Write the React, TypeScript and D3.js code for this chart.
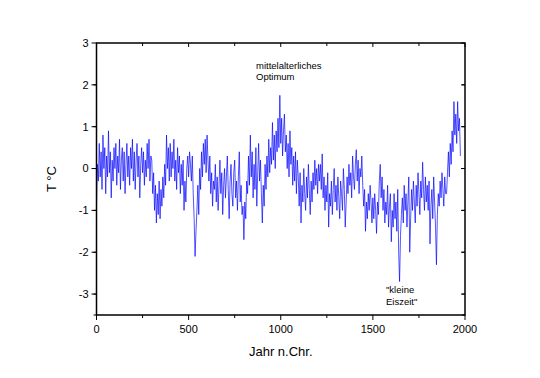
import React from "react";
import * as d3 from "d3";

const startYear = 0;
const stepYears = 5;

const temps0 = [-0.9, 0.1, -0.3, 0.6, -0.2, 0.4, -0.5, 0.8, 0.0, 0.5, -0.6, 0.3, -0.2, 0.9, -0.1, 0.4, -0.7, 0.2, -0.3, 0.5];
const temps100 = [0.0, 0.6, -0.4, 0.3, -0.1, 0.7, -0.5, 0.2, 0.5, -0.3, 0.4, -0.6, 0.1, 0.6, -0.2, 0.3, -0.4, 0.5, 0.0, 0.7];
const temps200 = [-0.3, 0.4, -0.5, 0.2, 0.6, -0.2, 0.3, -0.7, 0.1, 0.5, -0.1, 0.4, -0.4, 0.2, -0.2, 0.6, 0.0, 0.7, -0.3, 0.3];
const temps300 = [0.2, -0.6, -0.1, -1.0, -0.4, -1.3, -0.6, -1.1, -0.3, -1.2, -0.5, -0.9, -0.2, -0.7, 0.1, -0.4, 0.8, 0.0, 0.5, -0.3];
const temps400 = [0.6, -0.2, 0.4, 0.0, 0.7, -0.3, 0.2, -0.5, 0.5, -0.1, 0.3, -0.6, 0.1, -0.4, 0.2, -1.0, -0.3, -0.8, 0.0, 0.3];
const temps500 = [-0.2, 0.4, 0.1, -0.3, 0.3, -0.6, -1.2, -2.1, -1.5, -1.0, -0.4, -1.1, 0.0, -0.5, 0.4, -0.2, 0.6, 0.1, 0.7, -0.1];
const temps600 = [0.8, 0.2, -0.3, 0.3, -0.6, -0.1, -0.9, -0.3, -0.5, 0.1, -0.8, -0.2, -1.0, -0.4, 0.2, -0.6, -0.1, -1.1, -0.4, 0.0];
const temps700 = [-0.7, -0.2, 0.3, -0.5, -1.2, -0.3, 0.1, -0.6, -0.9, -0.1, 0.2, -0.7, -0.3, -1.0, -0.2, 0.4, -0.8, -0.4, -1.1, -0.9];
const temps800 = [-1.7, -0.8, -1.2, -0.3, -0.6, 0.3, -0.4, 0.8, -0.2, 0.4, -0.7, 0.1, -0.5, 0.5, -0.9, -0.1, 0.6, -0.3, 0.2, -0.6];
const temps900 = [-1.3, -0.4, -0.9, 0.1, -0.5, 0.3, -0.2, 0.7, -0.1, 0.5, 0.1, 1.1, 0.2, 0.8, 0.0, 0.9, 0.4, 1.2, 0.5, 1.75];
const temps1000 = [0.6, 1.2, 0.3, 0.9, 1.3, 0.4, 0.8, 0.0, 0.6, -0.2, 0.9, 0.1, 0.5, -0.4, 0.3, -0.3, 0.4, -0.6, 0.2, -0.2];
const temps1100 = [-0.9, -0.1, -1.3, -0.4, -0.8, 0.0, -0.6, -1.0, -0.2, -0.7, 0.1, -0.5, -1.1, -0.3, -0.8, -0.1, -0.5, 0.2, -0.4, 0.0];
const temps1200 = [-0.6, 0.1, -0.3, 0.1, -0.5, 0.35, -0.7, -0.2, -1.0, -0.4, -0.8, -0.1, -1.4, -0.6, -0.9, -0.3, -1.1, -0.5, 0.0, -0.8];
const temps1300 = [-0.4, -1.0, -0.2, -0.7, -1.2, -0.3, -0.6, -1.0, 0.0, -0.5, -1.4, -0.8, -0.2, -0.6, 0.1, -0.4, -0.1, -0.7, 0.3, -0.2];
const temps1400 = [-0.5, 0.1, 0.45, -0.3, 0.2, -0.6, 0.0, -0.2, 0.3, -0.4, -0.9, -0.5, -1.5, -0.8, -1.2, -0.6, -1.0, -0.4, -0.8, -1.3];
const temps1500 = [-0.7, -1.2, -0.6, -1.0, -1.55, -0.8, -1.1, -0.3, 0.1, -0.7, -0.2, -1.0, -0.5, -1.3, -0.8, -1.1, -0.4, -1.4, -0.9, -0.6];
const temps1600 = [-1.75, -1.0, -1.4, -0.6, -1.2, -0.8, -1.5, -0.5, -2.0, -2.7, -1.6, -1.1, -0.7, -1.3, -0.4, -1.0, -0.6, -1.4, -0.8, -0.2];
const temps1700 = [-2.0, -1.2, -0.5, -1.0, -0.3, -0.8, -1.3, -0.4, -0.9, -0.1, -0.6, -1.1, -0.3, -0.7, 0.15, -0.5, -1.0, -0.2, -0.8, -0.4];
const temps1800 = [-1.0, -0.3, -1.8, -0.9, -0.5, -1.2, -0.2, -0.8, -1.4, -2.3, -1.1, -0.6, -0.9, -0.3, -0.7, -0.1, -0.5, -0.9, -0.2, -0.6];
const temps1900 = [-0.6, -0.1, 0.4, -0.2, 0.6, 0.1, 0.9, 0.4, 1.6, 0.8, 1.3, 0.6, 1.6, 0.9, 1.2, 0.3];

const xTicks = [0, 500, 1000, 1500, 2000];
const yTicks = [-3, -2, -1, 0, 1, 2, 3];

const xTitle = "Jahr n.Chr.";
const yTitle = "T °C";
const annotationOptimum = ["mittelalterliches", "Optimum"];
const annotationEiszeit = ["\"kleine", "Eiszeit\""];

const allTemps = [
  ...temps0, ...temps100, ...temps200, ...temps300, ...temps400,
  ...temps500, ...temps600, ...temps700, ...temps800, ...temps900,
  ...temps1000, ...temps1100, ...temps1200, ...temps1300, ...temps1400,
  ...temps1500, ...temps1600, ...temps1700, ...temps1800, ...temps1900,
];
const series = allTemps.map((v, i) => ({ year: startYear + i * stepYears, value: v }));

export default function App() {
  const W = 540, H = 378;
  const left = 96.5, right = 465, top = 43, bottom = 315;
  const x = d3.scaleLinear().domain([0, 2000]).range([left, right]);
  const y = d3.scaleLinear().domain([-3.5, 3]).range([bottom, top]);
  const line = d3.line<{ year: number; value: number }>()
    .x(d => x(d.year))
    .y(d => y(d.value));

  const xMinor = d3.range(250, 2000, 500);
  const yMinor = d3.range(-3.5, 3, 1).map(v => v + 0.5).filter(v => v < 3);
  const yMinorAll = [-3.5, ...yMinor];
  const font = "Liberation Sans, Arial, sans-serif";

  return (
    <svg width={W} height={H} style={{ position: "absolute", left: 0, top: 0 }} fontFamily={font}>
      <rect width={W} height={H} fill="#fff" />
      <path d={line(series) || ""} fill="none" stroke="#0000ff" strokeWidth={0.8} strokeOpacity={0.85} />
      <rect x={left} y={top} width={right - left} height={bottom - top} fill="none" stroke="#000" strokeWidth={1.5} />
      {yTicks.map(t => (
        <g key={"yl" + t}>
          <line x1={left - 5} x2={left} y1={y(t)} y2={y(t)} stroke="#000" strokeWidth={1} />
          <text x={left - 8} y={y(t)} dy="0.35em" textAnchor="end" fontSize={11}>{t}</text>
          <line x1={right - 4} x2={right} y1={y(t)} y2={y(t)} stroke="#000" strokeWidth={1} />
        </g>
      ))}
      {yMinorAll.map(t => (
        <g key={"ym" + t}>
          <line x1={left - 3} x2={left} y1={y(t)} y2={y(t)} stroke="#000" strokeWidth={1} />
          <line x1={right - 3} x2={right} y1={y(t)} y2={y(t)} stroke="#000" strokeWidth={1} />
        </g>
      ))}
      {xTicks.map(t => (
        <g key={"xb" + t}>
          <line x1={x(t)} x2={x(t)} y1={bottom} y2={bottom + 5} stroke="#000" strokeWidth={1} />
          <text x={x(t)} y={bottom + 18} textAnchor="middle" fontSize={11}>{t}</text>
          <line x1={x(t)} x2={x(t)} y1={top} y2={top + 4} stroke="#000" strokeWidth={1} />
        </g>
      ))}
      {xMinor.map(t => (
        <g key={"xm" + t}>
          <line x1={x(t)} x2={x(t)} y1={bottom} y2={bottom + 3} stroke="#000" strokeWidth={1} />
          <line x1={x(t)} x2={x(t)} y1={top} y2={top + 3} stroke="#000" strokeWidth={1} />
        </g>
      ))}
      <text x={(left + right) / 2} y={356} textAnchor="middle" fontSize={13}>{xTitle}</text>
      <text transform={`translate(56,${(top + bottom) / 2}) rotate(-90)`} textAnchor="middle" fontSize={13}>{yTitle}</text>
      {annotationOptimum.map((s, i) => (
        <text key={s} x={256} y={69 + i * 11} fontSize={9.5}>{s}</text>
      ))}
      {annotationEiszeit.map((s, i) => (
        <text key={s} x={386} y={293 + i * 12} fontSize={9.5}>{s}</text>
      ))}
    </svg>
  );
}
